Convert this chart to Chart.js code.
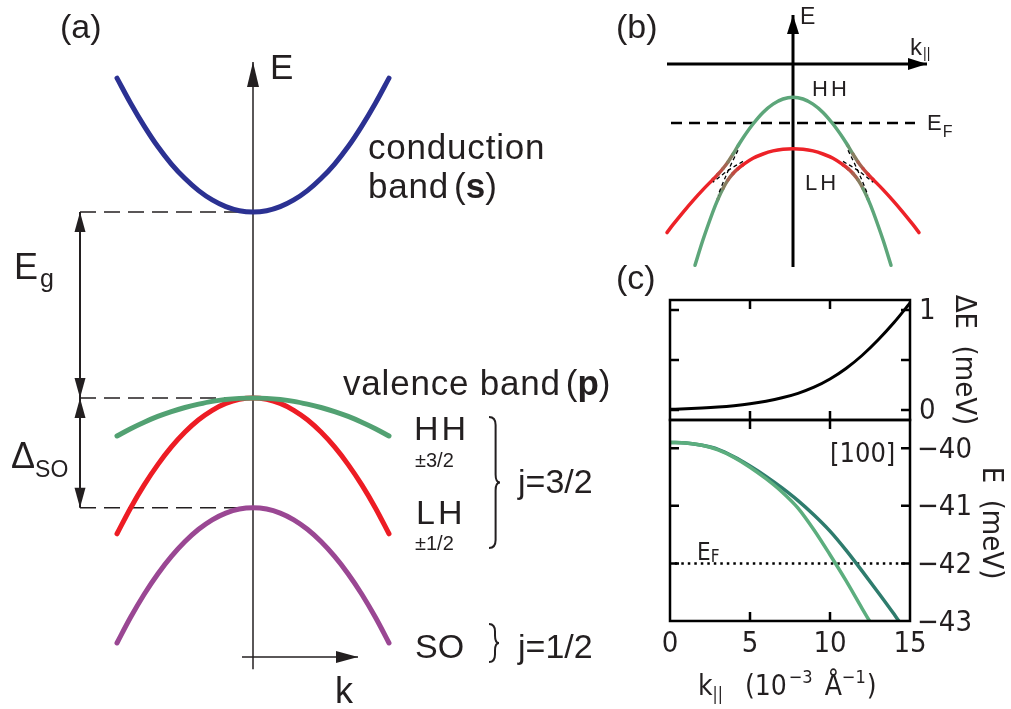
<!DOCTYPE html>
<html>
<head>
<meta charset="utf-8">
<script src="https://cdn.jsdelivr.net/npm/chart.js@4"></script>
<style>
  body { margin: 0; background: #fff; }
  #fig { display: block; }
</style>
</head>
<body>
<canvas id="fig" width="1011" height="709"></canvas>
<script>
// ---- panel (a): bulk band structure (arbitrary units, Eg = 1) ----
const kA = [-1, -0.9, -0.8, -0.7, -0.6, -0.5, -0.4, -0.3, -0.2, -0.1, 0, 0.1, 0.2, 0.3, 0.4, 0.5, 0.6, 0.7, 0.8, 0.9, 1];
const conductionE = [1.72, 1.585, 1.462, 1.352, 1.258, 1.18, 1.115, 1.065, 1.029, 1.007, 1.0, 1.007, 1.029, 1.065, 1.115, 1.18, 1.258, 1.352, 1.462, 1.585, 1.72];
const heavyHoleE = [-0.204, -0.165, -0.13, -0.099, -0.073, -0.051, -0.033, -0.018, -0.008, -0.002, 0, -0.002, -0.008, -0.018, -0.033, -0.051, -0.073, -0.099, -0.13, -0.165, -0.204];
const lightHoleE = [-0.73, -0.591, -0.467, -0.358, -0.263, -0.183, -0.117, -0.066, -0.029, -0.007, 0, -0.007, -0.029, -0.066, -0.117, -0.183, -0.263, -0.358, -0.467, -0.591, -0.73];
const splitOffE = [-1.317, -1.179, -1.055, -0.946, -0.852, -0.772, -0.706, -0.655, -0.619, -0.597, -0.59, -0.597, -0.619, -0.655, -0.706, -0.772, -0.852, -0.946, -1.055, -1.179, -1.317];
const levelsA = [1, 0, -0.59];          // Ec, Ev, Ev - Δso
const guideK = [-1.272, 0];             // dashed guides run from the arrows to the E axis
const eAxisA = [-1.458, 1.806];
const kAxisA = [-0.081, 0.772];
const kAxisLevelA = -1.392;

// ---- panel (b): HH / LH anticrossing sketch ----
const kUpper = [-1.26, -1.2, -1.1, -1.0, -0.9, -0.8, -0.75, -0.7, -0.65, -0.6, -0.55, -0.5, -0.4, -0.3, -0.2, -0.1, 0, 0.1, 0.2, 0.3, 0.4, 0.5, 0.55, 0.6, 0.65, 0.7, 0.75, 0.8, 0.9, 1.0, 1.1, 1.2, 1.26];
const upperE = [-1.686, -1.607, -1.483, -1.366, -1.256, -1.154, -1.103, -1.045, -0.979, -0.901, -0.819, -0.739, -0.600, -0.484, -0.401, -0.350, -0.333, -0.350, -0.401, -0.484, -0.600, -0.739, -0.819, -0.901, -0.979, -1.045, -1.103, -1.154, -1.256, -1.366, -1.483, -1.607, -1.686];
const kLower = [-0.98, -0.9, -0.8, -0.75, -0.7, -0.65, -0.6, -0.55, -0.5, -0.4, -0.3, -0.2, -0.1, 0, 0.1, 0.2, 0.3, 0.4, 0.5, 0.55, 0.6, 0.65, 0.7, 0.75, 0.8, 0.9, 0.98];
const lowerE = [-2.013, -1.758, -1.475, -1.351, -1.245, -1.159, -1.095, -1.046, -1.008, -0.943, -0.900, -0.869, -0.852, -0.847, -0.852, -0.869, -0.900, -0.943, -1.008, -1.046, -1.095, -1.159, -1.245, -1.351, -1.475, -1.758, -2.013];
const hhDiaKRight = [0.55, 0.6, 0.65, 0.7, 0.75];
const hhDiaKLeft = [-0.55, -0.6, -0.65, -0.7, -0.75];
const hhDiaE = [-0.863, -0.963, -1.071, -1.188, -1.313];
const lhDiaKRight = [0.5, 0.6, 0.65, 0.7, 0.8];
const lhDiaKLeft = [-0.5, -0.6, -0.65, -0.7, -0.8];
const lhDiaE = [-0.974, -1.033, -1.066, -1.102, -1.182];
const fermiB = -0.59;
const fermiBK = [-1.22, 1.22];
const eAxisB = [-2.03, 0.49];
const kAxisB = [-1.26, 1.34];

// ---- panel (c): calculated dispersion along [100] ----
const kC = [0, 1, 2, 3, 4, 5, 6, 7, 8, 9, 10, 11, 12, 13, 14, 15];
const deltaE = [0.007, 0.012, 0.019, 0.029, 0.043, 0.062, 0.088, 0.122, 0.167, 0.228, 0.31, 0.415, 0.545, 0.70, 0.875, 1.07];
const kDark = [0, 1, 2, 3, 4, 5, 6, 7, 8, 9, 10, 11, 12, 13, 14, 14.3];
const eDark = [-39.90, -39.91, -39.95, -40.02, -40.15, -40.31, -40.49, -40.69, -40.91, -41.16, -41.44, -41.77, -42.13, -42.50, -42.88, -43.0];
const kLight = [0, 1, 2, 3, 4, 5, 6, 7, 8, 9, 10, 11, 12, 12.47];
const eLight = [-39.90, -39.91, -39.95, -40.03, -40.16, -40.33, -40.53, -40.76, -41.04, -41.42, -41.85, -42.30, -42.78, -43.0];
const fermiC = -42;
const fermiCK = [0.3, 15];
const kTicksC = [0, 5, 10, 15];
const kTickLabels = ['0', '5', '10', '15'];
const dETicks = [0, 0.5, 1];
const dETickLabels = ['0', '', '1'];
const eTicks = [-40, -41, -42, -43];
const eTickLabels = ['\u221240', '\u221241', '\u221242', '\u221243'];
const dERange = [-0.1, 1.1];
const eRange = [-43, -39.51];

// colours
const INK = '#231f20';
const BLUE = '#2b3192';
const GREEN_A = '#52a172';
const RED = '#ed1c24';
const PURPLE = '#9a4793';
const GREEN_B = [93, 166, 122];
const RED_B = [237, 34, 40];
const TEAL_DARK = '#2e7c6d';
const TEAL_LIGHT = '#5cae7e';

const SANS = "'Liberation Sans', Arial, Helvetica, sans-serif";
const NARROW = "'Liberation Sans Narrow', 'DejaVu Sans Condensed', 'Liberation Sans', sans-serif";

function pts(xs, ys) {
  return xs.map((x, i) => ({ x: x, y: Array.isArray(ys) ? ys[i] : ys }));
}

function line(xs, ys, xID, yID, color, width, extra) {
  return Object.assign({
    data: pts(xs, ys),
    xAxisID: xID,
    yAxisID: yID,
    showLine: true,
    borderColor: color,
    borderWidth: width,
    pointRadius: 0,
    fill: false,
    tension: 0.35,
    borderCapStyle: 'round',
    borderJoinStyle: 'round'
  }, extra || {});
}

function mix(a, b, t) {
  t = Math.max(0, Math.min(1, t));
  const c = a.map((v, i) => Math.round(v + (b[i] - v) * t));
  return 'rgb(' + c.join(',') + ')';
}

const dashA = { borderDash: [16, 8], borderCapStyle: 'butt', tension: 0 };
const plain = { borderCapStyle: 'butt', tension: 0 };
const dashX = { borderDash: [4, 3], borderCapStyle: 'butt' };

const datasets = [
  // (a)
  line(kA, heavyHoleE, 'xa', 'ya', GREEN_A, 5),
  line(kA, lightHoleE, 'xa', 'ya', RED, 5),
  line(kA, conductionE, 'xa', 'ya', BLUE, 5),
  line(kA, splitOffE, 'xa', 'ya', PURPLE, 5),
  line(guideK, levelsA[0], 'xa', 'ya', INK, 1.5, dashA),
  line(guideK, levelsA[1], 'xa', 'ya', INK, 1.5, dashA),
  line(guideK, levelsA[2], 'xa', 'ya', INK, 1.5, dashA),
  line([guideK[0], guideK[0]], [levelsA[1], levelsA[0]], 'xa', 'ya', INK, 2, plain),
  line([guideK[0], guideK[0]], [levelsA[2], levelsA[1]], 'xa', 'ya', INK, 2, plain),
  line([0, 0], eAxisA, 'xa', 'ya', INK, 1.5, plain),
  line(kAxisA, kAxisLevelA, 'xa', 'ya', INK, 1.5, plain),

  // (b)
  line(hhDiaKRight, hhDiaE, 'xb', 'yb', '#000', 1.3, dashX),
  line(hhDiaKLeft, hhDiaE, 'xb', 'yb', '#000', 1.3, dashX),
  line(lhDiaKRight, lhDiaE, 'xb', 'yb', '#000', 1.3, dashX),
  line(lhDiaKLeft, lhDiaE, 'xb', 'yb', '#000', 1.3, dashX),
  line(kUpper, upperE, 'xb', 'yb', 'rgb(93,166,122)', 3.5, {
    segment: { borderColor: c => mix(GREEN_B, RED_B, (Math.abs(c.p0.parsed.x + c.p1.parsed.x) / 2 - 0.55) / 0.25) }
  }),
  line(kLower, lowerE, 'xb', 'yb', 'rgb(237,34,40)', 3.5, {
    segment: { borderColor: c => mix(RED_B, GREEN_B, (Math.abs(c.p0.parsed.x + c.p1.parsed.x) / 2 - 0.5) / 0.25) }
  }),
  line(fermiBK, fermiB, 'xb', 'yb', '#000', 2.5, { borderDash: [11, 7], borderCapStyle: 'butt', tension: 0 }),
  line([0, 0], eAxisB, 'xb', 'yb', '#000', 3, plain),
  line(kAxisB, 0, 'xb', 'yb', '#000', 3, plain),

  // (c)
  line(kC, deltaE, 'xc', 'yc1', '#000', 3, { cubicInterpolationMode: 'monotone', borderCapStyle: 'butt' }),
  line(kLight, eLight, 'xc', 'yc2', TEAL_LIGHT, 3.5, { cubicInterpolationMode: 'monotone', borderCapStyle: 'butt' }),
  line(kDark, eDark, 'xc', 'yc2', TEAL_DARK, 3.5, { cubicInterpolationMode: 'monotone', borderCapStyle: 'butt' }),
  line(fermiCK, fermiC, 'xc', 'yc2', '#000', 2.5, { borderDash: [2.5, 4], borderCapStyle: 'butt', tension: 0 })
];

function arrowHead(ctx, x, y, dx, dy, len, wid) {
  const px = -dy, py = dx;
  ctx.beginPath();
  ctx.moveTo(x, y);
  ctx.lineTo(x - dx * len + px * wid / 2, y - dy * len + py * wid / 2);
  ctx.lineTo(x - dx * len - px * wid / 2, y - dy * len - py * wid / 2);
  ctx.closePath();
  ctx.fill();
}

function rich(ctx, x, y, parts) {
  parts.forEach(p => {
    ctx.font = (p.bold ? 'bold ' : '') + p.size + 'px ' + (p.family || SANS);
    ctx.letterSpacing = p.spacing || '0px';
    x += p.gap || 0;
    ctx.fillText(p.t, x, y + (p.dy || 0));
    x += ctx.measureText(p.t).width;
  });
  ctx.letterSpacing = '0px';
}

function label(ctx, t, x, y, size, opts) {
  opts = opts || {};
  ctx.font = (opts.bold ? 'bold ' : '') + size + 'px ' + (opts.family || SANS);
  ctx.letterSpacing = opts.spacing || '0px';
  ctx.textAlign = opts.align || 'left';
  ctx.textBaseline = opts.baseline || 'alphabetic';
  ctx.fillText(t, x, y);
  ctx.letterSpacing = '0px';
  ctx.textAlign = 'left';
  ctx.textBaseline = 'alphabetic';
}

function brace(ctx, x, top, bottom, depth) {
  const mid = (top + bottom) / 2;
  const r = Math.min(8, (bottom - top) / 5);
  ctx.beginPath();
  ctx.moveTo(x, top);
  ctx.quadraticCurveTo(x + depth * 0.6, top, x + depth * 0.6, top + r);
  ctx.lineTo(x + depth * 0.6, mid - r);
  ctx.quadraticCurveTo(x + depth * 0.6, mid, x + depth, mid);
  ctx.quadraticCurveTo(x + depth * 0.6, mid, x + depth * 0.6, mid + r);
  ctx.lineTo(x + depth * 0.6, bottom - r);
  ctx.quadraticCurveTo(x + depth * 0.6, bottom, x, bottom);
  ctx.stroke();
}

const annotations = {
  id: 'annotations',
  afterDatasetsDraw(chart) {
    const ctx = chart.ctx;
    const s = chart.scales;
    ctx.save();
    ctx.fillStyle = INK;
    ctx.strokeStyle = INK;

    // ---- (a) arrows
    arrowHead(ctx, s.xa.getPixelForValue(0), s.ya.getPixelForValue(eAxisA[1]), 0, -1, 25, 12);
    arrowHead(ctx, s.xa.getPixelForValue(kAxisA[1]), s.ya.getPixelForValue(kAxisLevelA), 1, 0, 22, 12);
    const gx = s.xa.getPixelForValue(guideK[0]);
    arrowHead(ctx, gx, s.ya.getPixelForValue(levelsA[0]), 0, -1, 20, 11);
    arrowHead(ctx, gx, s.ya.getPixelForValue(levelsA[1]), 0, 1, 20, 11);
    arrowHead(ctx, gx, s.ya.getPixelForValue(levelsA[1]), 0, -1, 20, 11);
    arrowHead(ctx, gx, s.ya.getPixelForValue(levelsA[2]), 0, 1, 20, 11);

    // ---- (a) text
    label(ctx, '(a)', 60, 38, 34);
    label(ctx, 'E', 270, 79, 35);
    label(ctx, 'conduction', 368, 159, 35, { spacing: '0.8px' });
    rich(ctx, 368, 198, [{ t: 'band', size: 35, spacing: '0.8px' }, { t: '(', size: 35, gap: 5 }, { t: 's', size: 35, bold: true }, { t: ')', size: 35 }]);
    rich(ctx, 343, 395, [{ t: 'valence band', size: 35, spacing: '0.8px' }, { t: '(', size: 35, gap: 5 }, { t: 'p', size: 35, bold: true }, { t: ')', size: 35 }]);
    rich(ctx, 14, 279, [{ t: 'E', size: 36 }, { t: 'g', size: 25, dy: 8, gap: 2 }]);
    rich(ctx, 11, 468, [{ t: '\u0394', size: 36 }, { t: 'SO', size: 23, dy: 9 }]);
    label(ctx, 'HH', 414, 440, 34, { spacing: '3px' });
    label(ctx, '\u00b13/2', 415, 467, 20);
    label(ctx, 'LH', 416, 524, 34, { spacing: '3px' });
    label(ctx, '\u00b11/2', 415, 550, 20);
    label(ctx, 'j=3/2', 518, 493, 34);
    label(ctx, 'SO', 415, 658, 34);
    label(ctx, 'j=1/2', 518, 658, 34);
    label(ctx, 'k', 335, 703, 36);
    ctx.lineWidth = 2;
    brace(ctx, 489, 417, 548, 11);
    brace(ctx, 489, 624, 662, 10);

    // ---- (b) arrows and text
    ctx.fillStyle = '#000';
    arrowHead(ctx, s.xb.getPixelForValue(0), s.yb.getPixelForValue(eAxisB[1]), 0, -1, 19, 12);
    arrowHead(ctx, s.xb.getPixelForValue(kAxisB[1]), s.yb.getPixelForValue(0), 1, 0, 19, 12);
    ctx.fillStyle = INK;
    label(ctx, '(b)', 616, 38, 34);
    label(ctx, 'E', 800, 24, 23);
    rich(ctx, 910, 55, [{ t: 'k', size: 24 }, { t: '||', size: 14, dy: 3, gap: 1 }]);
    label(ctx, 'HH', 812, 96, 22, { spacing: '3px' });
    label(ctx, 'LH', 805, 190, 22, { spacing: '3px' });
    rich(ctx, 927, 130, [{ t: 'E', size: 22 }, { t: 'F', size: 16, dy: 7, gap: 1 }]);

    // ---- (c) frames with inward ticks
    label(ctx, '(c)', 616, 289, 34);
    ctx.strokeStyle = '#000';
    ctx.fillStyle = '#000';
    ctx.lineWidth = 2.5;
    const x0 = s.xc.getPixelForValue(kTicksC[0]);
    const x1 = s.xc.getPixelForValue(kTicksC[kTicksC.length - 1]);
    const tick = 9;
    const frames = [
      { y: s.yc1, range: dERange, ticks: dETicks },
      { y: s.yc2, range: eRange, ticks: eTicks }
    ];
    frames.forEach(f => {
      const yb = f.y.getPixelForValue(f.range[0]);
      const yt = f.y.getPixelForValue(f.range[1]);
      ctx.strokeRect(x0, yt, x1 - x0, yb - yt);
      ctx.beginPath();
      kTicksC.forEach(k => {
        const px = s.xc.getPixelForValue(k);
        if (px <= x0 + 1 || px >= x1 - 1) return;
        ctx.moveTo(px, yb); ctx.lineTo(px, yb - tick);
        ctx.moveTo(px, yt); ctx.lineTo(px, yt + tick);
      });
      f.ticks.forEach(v => {
        const py = f.y.getPixelForValue(v);
        if (py >= yb - 1 || py <= yt + 1) return;
        ctx.moveTo(x0, py); ctx.lineTo(x0 + tick, py);
        ctx.moveTo(x1, py); ctx.lineTo(x1 - tick, py);
      });
      ctx.stroke();
    });

    // tick labels
    ctx.fillStyle = INK;
    kTicksC.forEach((k, i) => {
      label(ctx, kTickLabels[i], s.xc.getPixelForValue(k), 652, 29, { family: NARROW, align: 'center' });
    });
    dETicks.forEach((v, i) => {
      if (dETickLabels[i]) label(ctx, dETickLabels[i], x1 + 9, s.yc1.getPixelForValue(v) + 1, 29, { family: NARROW, baseline: 'middle' });
    });
    eTicks.forEach((v, i) => {
      label(ctx, eTickLabels[i], x1 + 7, s.yc2.getPixelForValue(v) + 2, 29, { family: NARROW, baseline: 'middle' });
    });

    // axis titles
    rich(ctx, 698, 695, [
      { t: 'k', size: 28, family: NARROW },
      { t: '||', size: 17, dy: 5, family: NARROW },
      { t: '(10', size: 28, gap: 22, family: NARROW },
      { t: '\u22123', size: 18, dy: -12, gap: 2, family: NARROW },
      { t: '\u00c5', size: 28, gap: 12, family: NARROW },
      { t: '\u22121', size: 18, dy: -12, family: NARROW },
      { t: ')', size: 28, gap: 1, family: NARROW }
    ]);
    [[964, 360, '\u0394E  (meV)'], [991, 523, 'E  (meV)']].forEach(a => {
      ctx.save();
      ctx.translate(a[0], a[1]);
      ctx.rotate(Math.PI / 2);
      label(ctx, a[2], 0, 0, 29, { family: NARROW, align: 'center', baseline: 'middle' });
      ctx.restore();
    });
    label(ctx, '[100]', 830, 462, 27, { family: NARROW });
    rich(ctx, 697, 560, [{ t: 'E', size: 24, family: NARROW }, { t: 'F', size: 17, dy: 2, family: NARROW }]);

    ctx.restore();
  }
};

const lin = (axis, min, max) => ({ type: 'linear', axis: axis, display: false, min: min, max: max });

new Chart(document.getElementById('fig').getContext('2d'), {
  type: 'scatter',
  data: { datasets: datasets },
  options: {
    responsive: false,
    animation: false,
    events: [],
    layout: { padding: 0 },
    plugins: { legend: { display: false }, tooltip: { enabled: false } },
    scales: {
      xa: lin('x', -1.8603, 5.5735),
      ya: lin('y', -1.672, 2.1398),
      xb: lin('x', -7.93, 2.18),
      yb: lin('y', -6.45, 0.64),
      xc: lin('x', -41.875, 21.3125),
      yc1: lin('y', -2.99, 4.10),
      yc2: lin('y', -44.528, -32.219)
    }
  },
  plugins: [annotations]
});
</script>
</body>
</html>
